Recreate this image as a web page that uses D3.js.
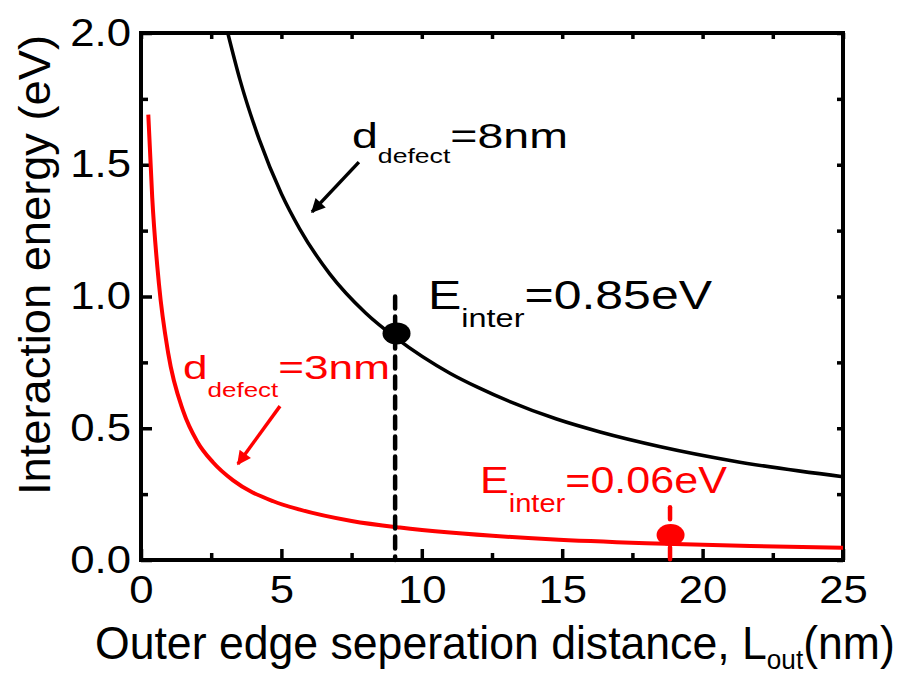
<!DOCTYPE html>
<html><head><meta charset="utf-8">
<script src="https://cdn.jsdelivr.net/npm/d3@7"></script>
<style>body{margin:0;background:#fff}</style>
</head><body><svg id="c" width="900" height="675"></svg>
<script>
// ---- data ----
const blackL = [3.09, 3.52, 4.21, 5.0, 5.65, 6.72, 8.0, 9.1, 11.0, 12.0, 14.8, 16.35, 18.5, 21.08, 25];
const blackE = [2.0, 1.824, 1.596, 1.39, 1.257, 1.086, 0.9375, 0.841, 0.709, 0.655, 0.535, 0.486, 0.430, 0.376, 0.316];
const redL = [0.26, 0.4, 0.64, 0.97, 1.51, 2.0, 2.57, 3.28, 4.71, 5.66, 7.5, 9.22, 11.0, 14.57, 18.0, 21.7, 25];
const redE = [1.69, 1.375, 1.047, 0.784, 0.563, 0.45, 0.370, 0.302, 0.223, 0.191, 0.148, 0.123, 0.104, 0.079, 0.064, 0.053, 0.046];
const xTicks = [0, 5, 10, 15, 20, 25];
const xMinor = [2.5, 7.5, 12.5, 17.5, 22.5];
const yTicks = [0.0, 0.5, 1.0, 1.5, 2.0];
const yMinor = [0.25, 0.75, 1.25, 1.75];
const markerL = [9.1, 18.86];
const markerE = [0.86, 0.095];
const dropL = [9.05, 18.84];
const dropTop = [1.0, 0.2];
const dropBottom = [0.0, -0.01];
const arrowFrom = [[7.76, 1.51], [4.95, 0.584]];
const arrowTo = [[6.09, 1.321], [3.45, 0.364]];
const colors = ["#000000", "#ff0000"];

const FONT = "'Liberation Sans', Arial, sans-serif";
const svg = d3.select("#c");
const L = 141, R = 843, T = 33, B = 560;
const x = d3.scaleLinear().domain([0, 25]).range([L, R]);
const y = d3.scaleLinear().domain([0, 2]).range([B, T]);

// axes
function styleAxis(g) {
  g.select(".domain").remove();
  g.selectAll(".tick line").attr("stroke", "#000").attr("stroke-width", 3.5);
  g.selectAll(".tick text").attr("font-family", FONT).attr("font-size", 38).attr("fill", "#000")
    .each(function () {
      const t = d3.select(this);
      const xv = +t.attr("x") || 0;
      t.attr("x", 0).attr("transform", `translate(${xv},0) scale(1.15,1)`);
    });
}
svg.append("g").attr("transform", `translate(0,${B})`)
  .call(d3.axisBottom(x).tickValues(xTicks).tickSizeInner(-11).tickSizeOuter(0).tickPadding(16).tickFormat(d3.format("d")))
  .call(styleAxis);
svg.append("g").attr("transform", `translate(0,${B})`)
  .call(d3.axisBottom(x).tickValues(xMinor).tickSizeInner(-7).tickSizeOuter(0).tickFormat(""))
  .call(styleAxis);
svg.append("g").attr("transform", `translate(0,${T})`)
  .call(d3.axisTop(x).tickValues(xTicks.concat(xMinor)).tickSizeInner(-6).tickSizeOuter(0).tickFormat(""))
  .call(styleAxis);
svg.append("g").attr("transform", `translate(${L},0)`)
  .call(d3.axisLeft(y).tickValues(yTicks).tickSizeInner(-11).tickSizeOuter(0).tickPadding(10).tickFormat(d3.format(".1f")))
  .call(styleAxis);
svg.append("g").attr("transform", `translate(${L},0)`)
  .call(d3.axisLeft(y).tickValues(yMinor).tickSizeInner(-7).tickSizeOuter(0).tickFormat(""))
  .call(styleAxis);
svg.append("g").attr("transform", `translate(${R},0)`)
  .call(d3.axisRight(y).tickValues(yTicks.concat(yMinor)).tickSizeInner(-6).tickSizeOuter(0).tickFormat(""))
  .call(styleAxis);

// frame
svg.append("rect").attr("x", L).attr("y", T).attr("width", R - L).attr("height", B - T)
  .attr("fill", "none").attr("stroke", "#000").attr("stroke-width", 4);

// curves
const line = d3.line().x(d => x(d[0])).y(d => y(d[1])).curve(d3.curveMonotoneX);
svg.append("path").datum(blackL.map((v, i) => [v, blackE[i]]))
  .attr("d", line).attr("fill", "none").attr("stroke", colors[0]).attr("stroke-width", 3.5);
svg.append("path").datum(redL.map((v, i) => [v, redE[i]]))
  .attr("d", line).attr("fill", "none").attr("stroke", colors[1]).attr("stroke-width", 4);

// drop lines
dropL.forEach((v, i) => {
  svg.append("line").attr("x1", x(v)).attr("x2", x(v)).attr("y1", y(dropTop[i])).attr("y2", y(dropBottom[i]))
    .attr("stroke", colors[i]).attr("stroke-width", 4.5).attr("stroke-dasharray", "12,8").attr("stroke-linecap", "round");
});
// markers
markerL.forEach((v, i) => {
  svg.append("ellipse").attr("cx", x(v)).attr("cy", y(markerE[i])).attr("rx", 14).attr("ry", 11).attr("fill", colors[i]);
});

// arrows
const defs = svg.append("defs");
colors.forEach((c, i) => {
  defs.append("marker").attr("id", "ah" + i).attr("viewBox", "0 0 10 10").attr("refX", 9).attr("refY", 5)
    .attr("markerUnits", "userSpaceOnUse").attr("markerWidth", 20).attr("markerHeight", 14).attr("orient", "auto")
    .append("path").attr("d", "M0,0 L10,5 L0,10 Z").attr("fill", c);
});
arrowFrom.forEach((f, i) => {
  svg.append("line").attr("x1", x(f[0])).attr("y1", y(f[1])).attr("x2", x(arrowTo[i][0])).attr("y2", y(arrowTo[i][1]))
    .attr("stroke", colors[i]).attr("stroke-width", 3.5).attr("marker-end", `url(#ah${i})`);
});

// stretched text helper
function stext(px, py, parts, targetW, color, anchor, rotate) {
  const t = svg.append("text").attr("fill", color).attr("font-family", FONT);
  parts.forEach(p => t.append("tspan").attr("font-size", p.size).attr("dy", p.dy || 0).text(p.t));
  const w = t.node().getComputedTextLength();
  const s = targetW ? targetW / w : 1;
  if (anchor === "middle") t.attr("x", -w / 2);
  t.attr("transform", `translate(${px},${py})${rotate ? " rotate(" + rotate + ")" : ""} scale(${s},1)`);
  return t;
}

// annotations
stext(352, 148, [{t: "d", size: 35}, {t: "defect", size: 20, dy: 15}, {t: "=8nm", size: 35, dy: -15}], 216, colors[0]);
stext(428, 309, [{t: "E", size: 40}, {t: "inter", size: 26, dy: 18}, {t: "=0.85eV", size: 40, dy: -18}], 284, colors[0]);
stext(183, 379, [{t: "d", size: 34}, {t: "defect", size: 20, dy: 18}, {t: "=3nm", size: 34, dy: -18}], 207, colors[1]);
stext(480, 493, [{t: "E", size: 37}, {t: "inter", size: 25, dy: 19}, {t: "=0.06eV", size: 37, dy: -19}], 247, colors[1]);

// axis titles
stext(50, 265, [{t: "Interaction energy (eV)", size: 44}], 460, "#000", "middle", -90);
stext(95, 659, [{t: "Outer edge seperation distance, L", size: 46}, {t: "out", size: 27, dy: 10}, {t: "(nm)", size: 46, dy: -10}], 800, "#000");
</script></body></html>
